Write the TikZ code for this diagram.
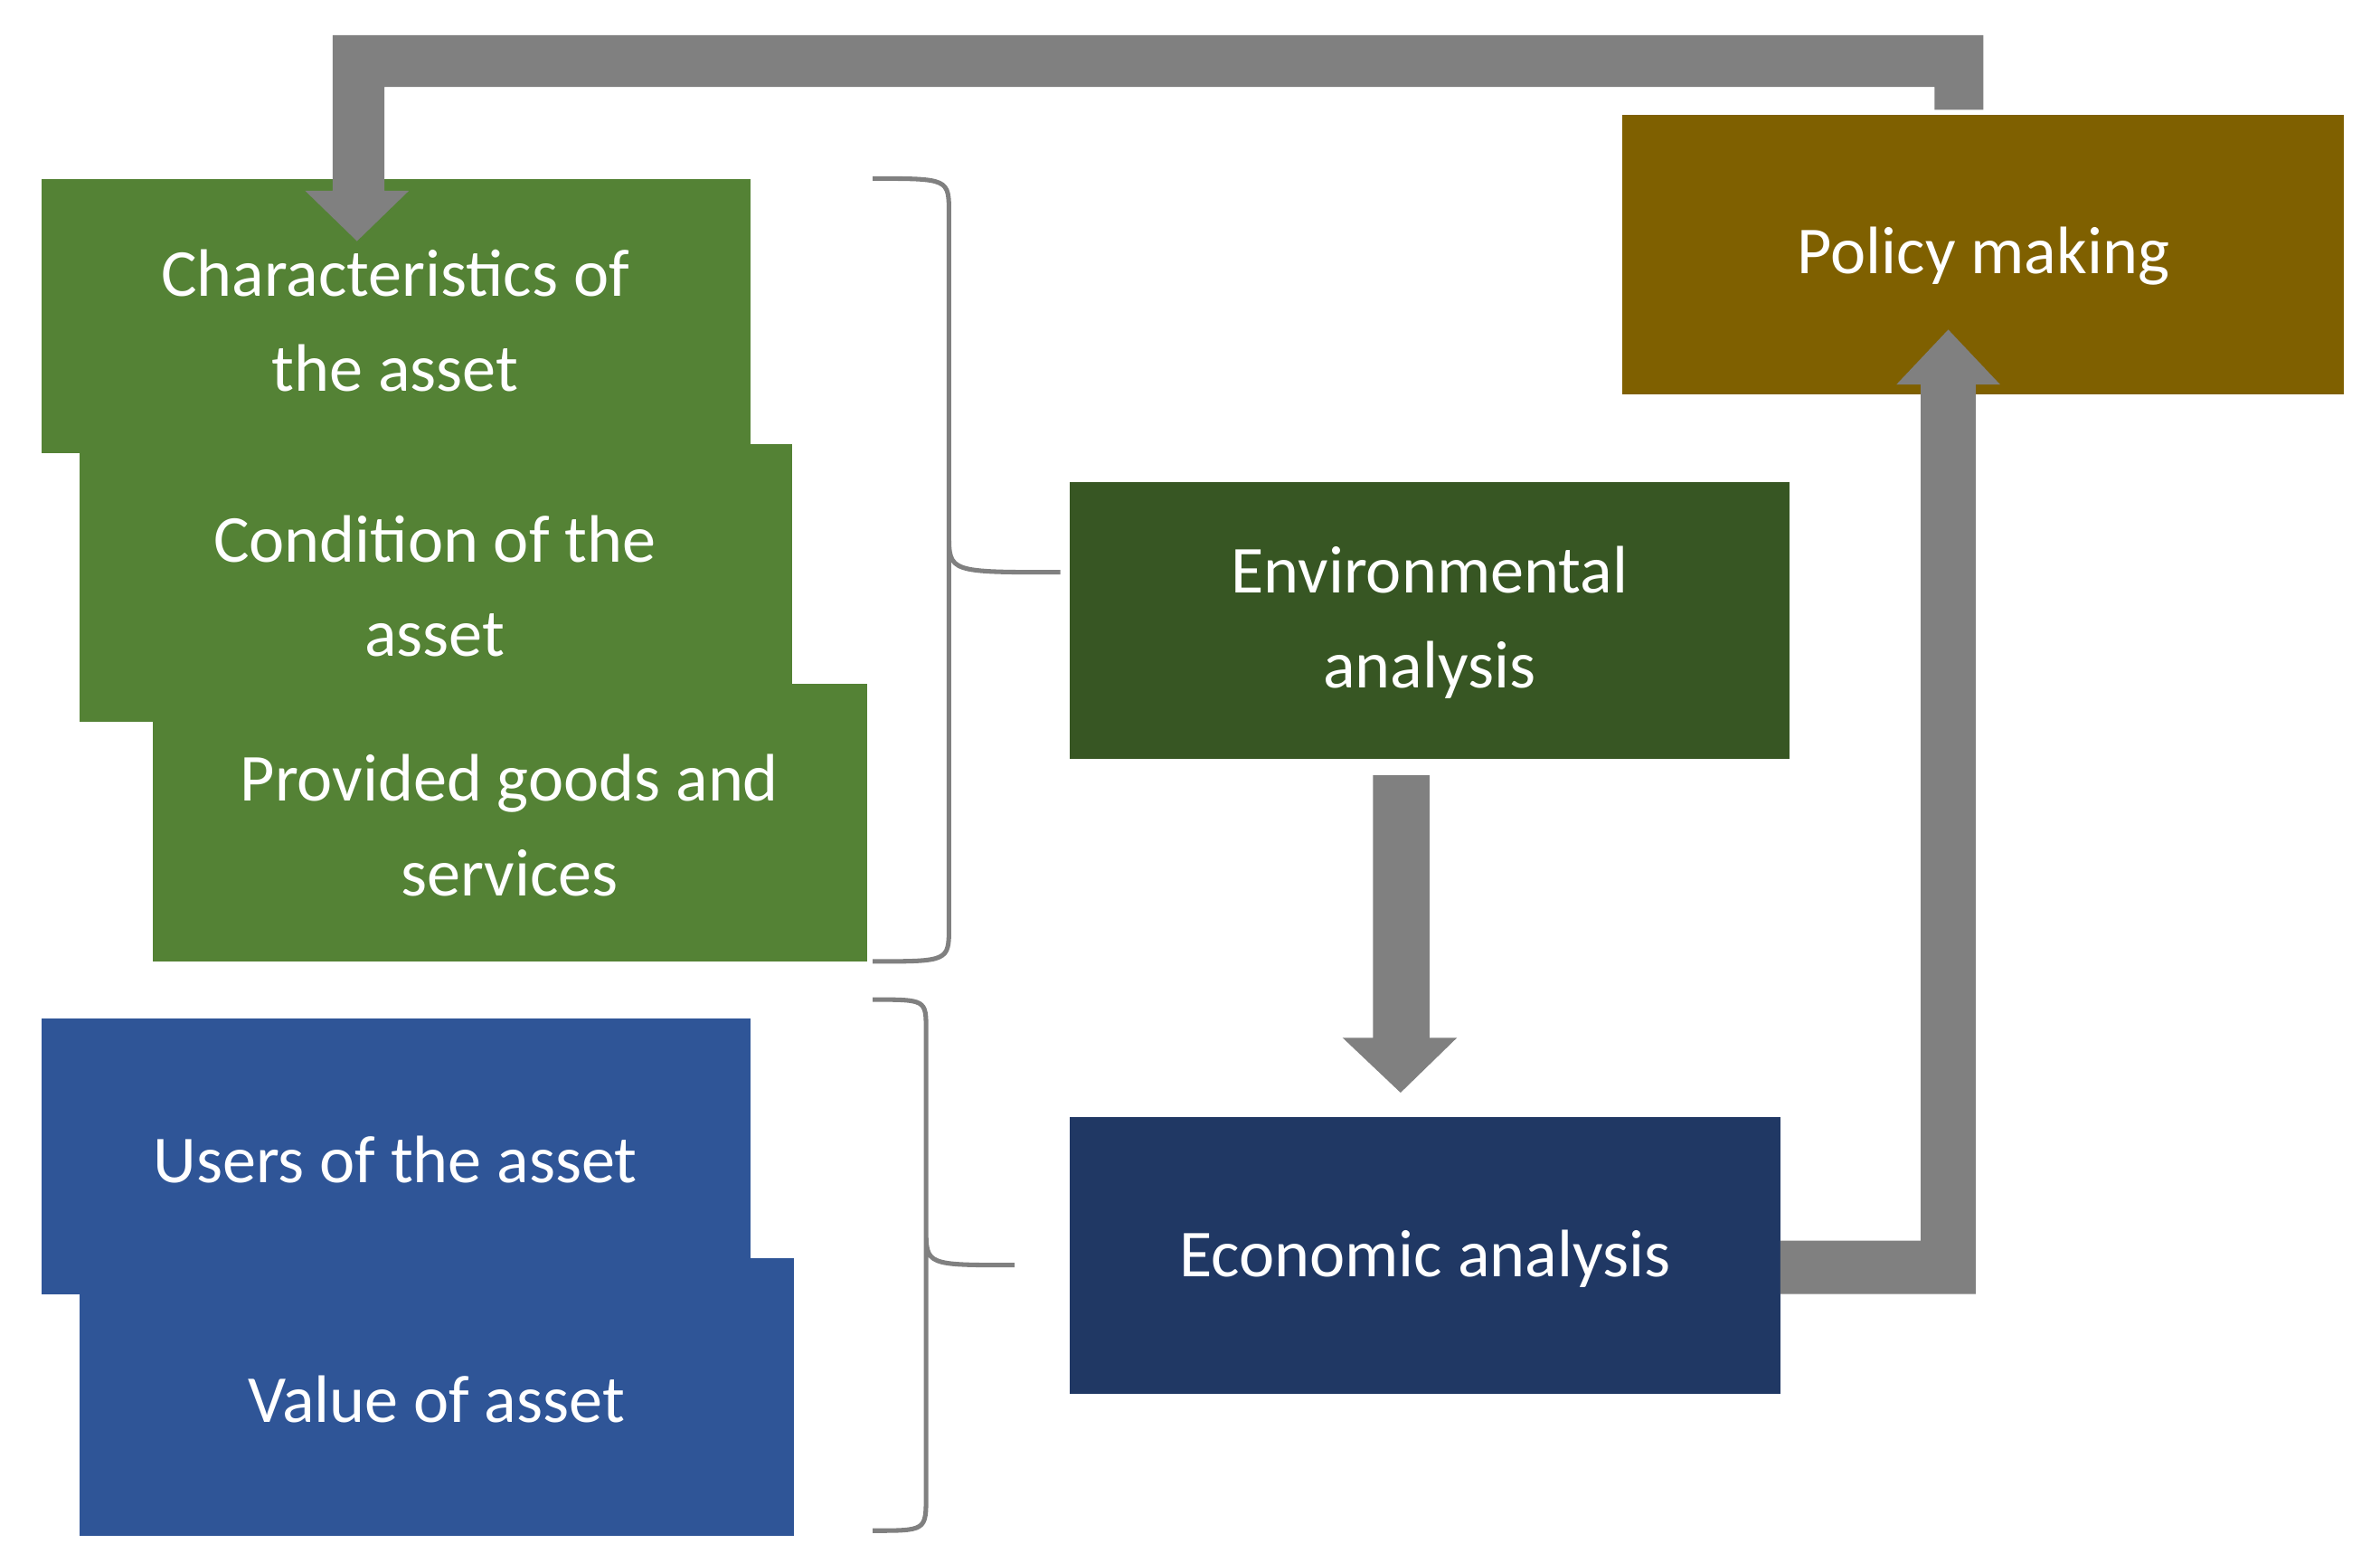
\documentclass[tikz,border=0pt]{standalone}
\usepackage{fontspec}
\setmainfont{Carlito}
\begin{document}
\begin{tikzpicture}[x=1pt,y=-1pt,
  box/.style={inner sep=0pt,align=center,text=white,font=\fontsize{44}{62}\selectfont,anchor=north west},
  arr/.style={fill=gray!100!white,fill=arrgray},
  brace/.style={draw=gray,line width=3pt}]
\definecolor{arrgray}{HTML}{808080}
\definecolor{gA}{HTML}{548235}
\definecolor{gB}{HTML}{375623}
\definecolor{bA}{HTML}{2F5597}
\definecolor{bB}{HTML}{203864}
\definecolor{pol}{HTML}{7F6000}
\useasboundingbox (0,0) rectangle (1560,1024);
\node[box,fill=gA,minimum width=465,minimum height=180] (char) at (27,117) {};
\node[white,font=\fontsize{44}{62}\selectfont,align=center] at (259,210) {Characteristics of\\the asset};
\node[box,fill=gA,minimum width=467,minimum height=182] (cond) at (52,291) {};
\node[white,font=\fontsize{44}{62}\selectfont,align=center] at (285,384) {Condition of the\\asset};
\node[box,fill=gA,minimum width=468,minimum height=182] (prov) at (100,448) {};
\node[white,font=\fontsize{44}{62}\selectfont,align=center] at (334,541) {Provided goods and\\services};
\node[box,fill=bA,minimum width=465,minimum height=181] (users) at (27,667) {};
\node[white,font=\fontsize{44}{62}\selectfont] at (259,760) {Users of the asset};
\node[box,fill=bA,minimum width=468,minimum height=182] (value) at (52,824) {};
\node[white,font=\fontsize{44}{62}\selectfont] at (286,917) {Value of asset};
\node[box,fill=gB,minimum width=472,minimum height=181] (env) at (701,316) {};
\node[white,font=\fontsize{44}{62}\selectfont,align=center] at (937,408) {Environmental\\analysis};
\node[box,fill=bB,minimum width=466,minimum height=181] (econ) at (701,732) {};
\node[white,font=\fontsize{44}{62}\selectfont] at (934,825) {Economic analysis};
\node[box,fill=pol,minimum width=473,minimum height=183] (policy) at (1063,75) {};
\node[white,font=\fontsize{44}{62}\selectfont] at (1300,168) {Policy making};
% braces
\draw[brace] (572,117) .. controls (622,117) .. (622,140) -- (622,350) .. controls (622,375) .. (695,375)
  (622,350) .. controls (622,375) and (622,375) .. (622,400) -- (622,607) .. controls (622,630) .. (572,630);
\draw[brace] (572,655) .. controls (607,655) .. (607,675) -- (607,805) .. controls (607,829) .. (665,829)
  (607,805) -- (607,980) .. controls (607,1003) .. (572,1003);
% arrows
\fill[arrgray] (1300,72) -- (1300,23) -- (218,23) -- (218,125) -- (200,125) -- (234,158) -- (268,125) -- (252,125) -- (252,57) -- (1268,57) -- (1268,72) -- cycle;
\fill[arrgray] (900,508) -- (937,508) -- (937,680) -- (955,680) -- (918,716) -- (880,680) -- (900,680) -- cycle;
\fill[arrgray] (1167,813) -- (1259,813) -- (1259,252) -- (1243,252) -- (1277,216) -- (1311,252) -- (1295,252) -- (1295,848) -- (1167,848) -- cycle;
\end{tikzpicture}
\end{document}
